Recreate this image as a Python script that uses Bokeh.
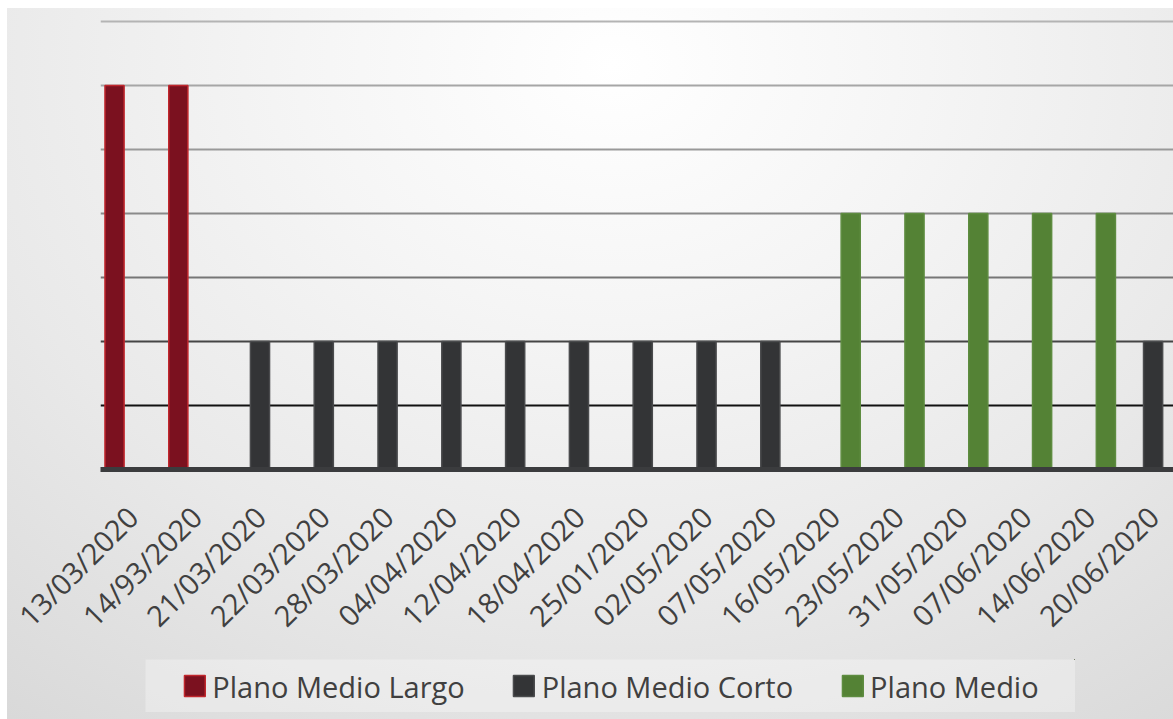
import math
from bokeh.plotting import figure
from bokeh.models import (ColumnDataSource, FixedTicker, Grid, Legend, LegendItem,
                          Spacer, Range1d)
from bokeh.layouts import column, row
from bokeh.transform import dodge
from bokeh.embed import file_html
from bokeh.resources import INLINE

# ---------------- data ----------------
dates = ["13/03/2020", "14/93/2020", "21/03/2020", "22/03/2020", "28/03/2020",
         "04/04/2020", "12/04/2020", "18/04/2020", "25/01/2020", "02/05/2020",
         "07/05/2020", "16/05/2020", "23/05/2020", "31/05/2020", "07/06/2020",
         "14/06/2020", "20/06/2020"]
plano_medio_largo = [6, 6, 0, 0, 0, 0, 0, 0, 0, 0, 0, 0, 0, 0, 0, 0, 0]
plano_medio_corto = [0, 0, 2, 2, 2, 2, 2, 2, 2, 2, 2, 0, 0, 0, 0, 0, 2]
plano_medio = [0, 0, 0, 0, 0, 0, 0, 0, 0, 0, 0, 4, 4, 4, 4, 4, 0]
series_names = ["Plano Medio Largo", "Plano Medio Corto", "Plano Medio"]
y_levels = [1, 2, 3, 4, 5, 6, 7]

FONT = "Open Sans"
TEXT = "#404040"
fills = ["#7b111f", "#333436", "#548235"]
lines = ["#c1272d", "#4a4b4d", "#5e8c40"]
offsets = [-0.28, 0.0, 0.26]
grid_colors = ["#111111", "#454545", "#767676", "#8a8a8a", "#999999", "#a6a6a6", "#b4b4b4"]

# ---------------- main chart ----------------
p = figure(width=1166, height=642, x_range=Range1d(-0.5, 16.32), y_range=Range1d(0, 7.03),
           output_backend="svg", toolbar_location=None, y_axis_location=None,
           min_border_left=93, min_border_right=0, min_border_top=11, min_border_bottom=180,
           background_fill_color=None, border_fill_color=None, outline_line_color=None)
p.xgrid.visible = False
p.ygrid.visible = False

for lvl, col in zip(y_levels, grid_colors):
    g = Grid(dimension=1, ticker=FixedTicker(ticks=[lvl]), grid_line_color=col,
             grid_line_width=2)
    p.add_layout(g)

sources = []
for vals, fc, lc, off in zip([plano_medio_largo, plano_medio_corto, plano_medio],
                             fills, lines, offsets):
    xs = [i for i, v in enumerate(vals) if v > 0]
    ys = [v for v in vals if v > 0]
    src = ColumnDataSource(dict(x=xs, y=ys))
    sources.append(src)
    p.vbar(x=dodge("x", off, range=p.x_range), top="y", width=0.30, bottom=0,
           source=src, fill_color=fc, line_color=lc, line_width=1.5)

ax = p.xaxis[0]
ax.ticker = FixedTicker(ticks=list(range(len(dates))))
ax.major_label_overrides = {i: d for i, d in enumerate(dates)}
ax.major_label_orientation = math.pi / 4
ax.major_label_text_font = FONT
ax.major_label_text_font_size = "29px"
ax.major_label_text_color = TEXT
ax.major_label_standoff = 36
ax.axis_line_color = "#3b3c3e"
ax.axis_line_width = 5
ax.major_tick_line_color = None
ax.minor_tick_line_color = None

# ---------------- legend (separate strip) ----------------
lg = figure(width=930, height=53, output_backend="svg", toolbar_location=None,
            x_axis_location=None, y_axis_location=None, min_border=0,
            x_range=Range1d(-1000, -999), y_range=Range1d(-1000, -999),
            background_fill_color="#ffffff", background_fill_alpha=0.3,
            border_fill_color=None, outline_line_color=None)
lg.xgrid.visible = False
lg.ygrid.visible = False
items = []
for name, src, fc, lc in zip(series_names, sources, fills, lines):
    r = lg.vbar(x="x", top="y", width=0.3, source=src,
                fill_color=fc, line_color=lc, line_width=1.5)
    items.append(LegendItem(label=name, renderers=[r]))
legend = Legend(items=items, orientation="horizontal", location="center",
                glyph_width=26, glyph_height=26, label_standoff=5, spacing=46,
                padding=0, margin=0, border_line_color=None, background_fill_alpha=0,
                label_text_font=FONT, label_text_font_size="29px",
                label_text_color=TEXT)
lg.add_layout(legend)

layout = column(p, Spacer(height=9), row(Spacer(width=138), lg), Spacer(height=7),
                margin=(8, 0, 0, 7),
                styles={"background": "radial-gradient(ellipse 90% 120% at 52% 8%, #ffffff 0%, #f5f5f5 30%, #e9e9e9 62%, #d7d7d7 100%)"})

open("out.html", "w").write(file_html(layout, INLINE))
